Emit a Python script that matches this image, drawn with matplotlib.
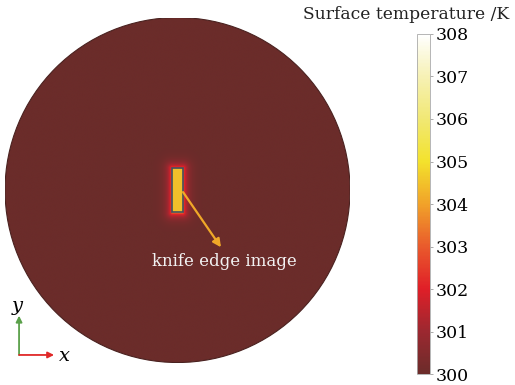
import numpy as np
import matplotlib
matplotlib.use('Agg')
import matplotlib.pyplot as plt
from matplotlib.colors import LinearSegmentedColormap
from matplotlib.patches import Circle, Rectangle, FancyArrowPatch

plt.rcParams['font.family'] = 'DejaVu Serif'
plt.rcParams['mathtext.fontset'] = 'dejavuserif'

# sample geometry (mm)
disk_radius = 25.0
spot_width = 1.6
spot_height = 6.5
glow_width = 0.6

# temperatures (K)
t_ambient = 300.0
t_spot = 304.45
t_halo = 302.9
t_min = 300
t_max = 308
tick_values = [300, 301, 302, 303, 304, 305, 306, 307, 308]

# colour scale stops
cmap_temps = [300, 301, 302, 303, 304, 305, 306, 307, 308]
cmap_colors = ['#6b2c2a', '#9c2830', '#e01f28', '#e95a2c', '#f1a229',
               '#f3e22c', '#f1e873', '#f6f1b4', '#ffffff']

cmap = LinearSegmentedColormap.from_list(
    'thermal', [((t - t_min) / (t_max - t_min), c) for t, c in zip(cmap_temps, cmap_colors)])

# temperature field on the disk: hot strip plus a decaying halo
n = 1000
xs = np.linspace(-disk_radius, disk_radius, n)
X, Y = np.meshgrid(xs, xs)
dx = np.maximum(np.abs(X) - spot_width / 2, 0)
dy = np.maximum(np.abs(Y) - spot_height / 2, 0)
dist = np.hypot(dx, dy)
T = t_ambient + (t_halo - t_ambient) * np.exp(-dist / glow_width)
T[dist == 0] = t_spot

fig = plt.figure(figsize=(5.15, 3.85), dpi=100)

ax = fig.add_axes([0.0097, 0.0584, 0.670, 0.896])
ax.set_xlim(-disk_radius, disk_radius)
ax.set_ylim(-disk_radius, disk_radius)
ax.set_aspect('equal')
ax.axis('off')

im = ax.imshow(T, extent=[-disk_radius, disk_radius, -disk_radius, disk_radius],
               origin='lower', cmap=cmap, vmin=t_min, vmax=t_max, interpolation='bilinear')
disk = Circle((0, 0), disk_radius, transform=ax.transData)
im.set_clip_path(disk)
ax.add_patch(Circle((0, 0), disk_radius, fill=False, ec='#4a2220', lw=0.8))

# knife edge outline
ax.add_patch(Rectangle((-spot_width / 2, -spot_height / 2), spot_width, spot_height,
                       fill=False, ec='#44505e', lw=1.2))

ax.annotate('', xy=(6.3, -8.3), xytext=(0.8, -0.3),
            arrowprops=dict(arrowstyle='-|>', color='#f0a828', lw=1.6,
                            mutation_scale=12, shrinkA=0, shrinkB=0))
ax.text(6.8, -10.3, 'knife edge image', color='#f2f2f2', fontsize=12,
        ha='center', va='center')

# colorbar
cax = fig.add_axes([0.810, 0.028, 0.025, 0.884])
cb = fig.colorbar(im, cax=cax, ticks=tick_values)
cb.outline.set_edgecolor('#aaaaaa')
cb.outline.set_linewidth(0.6)
cax.tick_params(labelsize=12.5, length=2, width=0.5, color='#888888', pad=2)
fig.text(0.788, 0.963, 'Surface temperature /K', fontsize=12.3, ha='center', va='center',
         color='#222222')

# coordinate triad
ox, oy = 0.037, 0.078
fig.patches.append(FancyArrowPatch(
    (ox, oy), (ox, 0.180), transform=fig.transFigure, arrowstyle='-|>',
    mutation_scale=9, color='#5aa04a', lw=1.3, shrinkA=0, shrinkB=0))
fig.patches.append(FancyArrowPatch(
    (ox, oy), (0.105, oy), transform=fig.transFigure, arrowstyle='-|>',
    mutation_scale=9, color='#e02828', lw=1.3, shrinkA=0, shrinkB=0))
fig.text(0.034, 0.200, '$y$', fontsize=14, ha='center', va='center')
fig.text(0.124, 0.075, '$x$', fontsize=14, ha='center', va='center')

fig.savefig('out.png', dpi=100)
